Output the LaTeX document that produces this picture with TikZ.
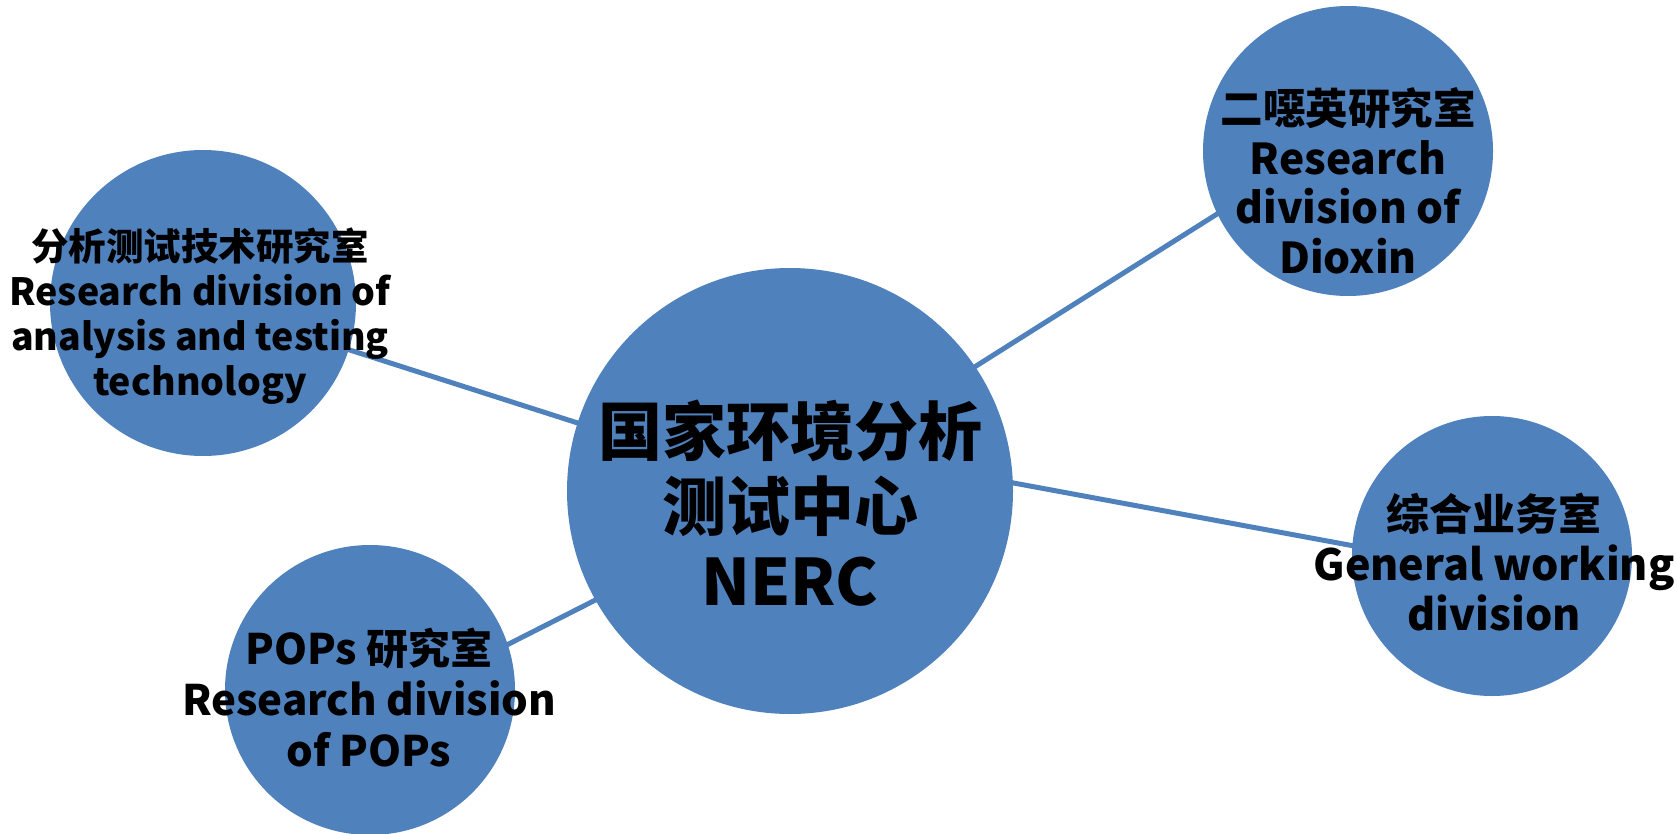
\documentclass[tikz,border=0pt]{standalone}
\usepackage{fontspec}
\setmainfont{Noto Sans CJK SC}
\usetikzlibrary{backgrounds}
\definecolor{bubbleblue}{HTML}{4F81BD}
\tikzset{
    bubble/.style={circle, fill=bubbleblue, inner sep=0pt},
    bubble text/.style 2 args={align=center, text=black, font=\fontsize{#1}{#2}\selectfont\bfseries},
    link/.style={draw=bubbleblue, line width=5pt},
}

\begin{document}
\begin{tikzpicture}[x=1pt, y=-1pt]
        \useasboundingbox (0, 0) rectangle (1677, 834);
        %draw circles
        \node[bubble, minimum size=446] (nerc) at (790, 491) {};
        \node[bubble, minimum size=306] (analysis) at (203, 303) {};
        \node[bubble, minimum size=290] (dioxin) at (1348, 151) {};
        \node[bubble, minimum size=280] (general) at (1492, 556) {};
        \node[bubble, minimum size=290] (pops) at (370, 690) {};
        %end points of links
        \coordinate (nerc-dioxin) at (900, 414);
        \coordinate (dioxin-nerc) at (1290, 168);
        \coordinate (nerc-general) at (900, 462);
        \coordinate (general-nerc) at (1430, 560);
        \coordinate (nerc-pops) at (700, 547);
        \coordinate (pops-nerc) at (420, 689);
        %draw links behind circles
        \begin{scope}[on background layer]
            \draw[link] (nerc.center) -- (analysis.center);
            \draw[link] (nerc-dioxin) -- (dioxin-nerc);
            \draw[link] (nerc-general) -- (general-nerc);
            \draw[link] (nerc-pops) -- (pops-nerc);
        \end{scope}
        %draw texts
        \node[bubble text={64}{75}] (nerc-text) at (790, 503) {国家环境分析\\测试中心\\NERC};
        \node[bubble text={37.5}{45}] (analysis-text) at (200, 316) {分析测试技术研究室\\Research division of\\analysis and testing\\technology};
        \node[bubble text={42.5}{49.5}] (dioxin-text) at (1348, 181) {二噁英研究室\\Research\\division of\\Dioxin};
        \node[bubble text={43}{50}] (general-text) at (1494, 562) {综合业务室\\General working\\division};
        \node[bubble text={42}{51}] (pops-text) at (369, 697) {POPs 研究室\\Research division\\of POPs};
    \end{tikzpicture}
\end{document}
